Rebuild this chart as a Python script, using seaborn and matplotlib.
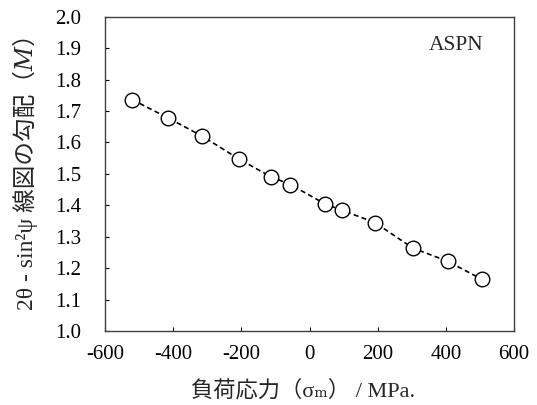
import matplotlib
matplotlib.use("Agg")
import matplotlib.pyplot as plt
import seaborn as sns
import pandas as pd

stress = [-520, -415, -315, -208, -114, -56, 46, 96, 192, 303, 405, 505]
slope = [1.736, 1.678, 1.620, 1.548, 1.491, 1.466, 1.404, 1.384, 1.345, 1.264, 1.222, 1.165]
xticks = [-600, -400, -200, 0, 200, 400, 600]
yticks = [1.0, 1.1, 1.2, 1.3, 1.4, 1.5, 1.6, 1.7, 1.8, 1.9, 2.0]

sns.set_theme(style="ticks")
plt.rcParams['font.family'] = ['Liberation Serif', 'Noto Sans CJK JP', 'DejaVu Serif', 'DejaVu Sans']

df = pd.DataFrame({"x": stress, "y": slope})

fig = plt.figure(figsize=(5.37, 4.05), dpi=100)
ax = fig.add_axes([105/537, 1-331/405, (514-105)/537, (331-16.7)/405])

sns.lineplot(data=df, x="x", y="y", ax=ax, color="black", linestyle=(0, (3, 2)),
             linewidth=1.2, marker="o", markersize=10.5, markerfacecolor="white",
             markeredgecolor="black", markeredgewidth=1.0)

ax.set_xlim(-600, 600)
ax.set_ylim(1.0, 2.0)
ax.set_xticks(xticks)
ax.set_xticklabels([str(v) for v in xticks])
ax.set_yticks(yticks)
ax.set_yticklabels([f"{v:.1f}" for v in yticks])
ax.tick_params(axis="both", direction="in", length=3, width=0.8, labelsize=15, colors="black")
ax.tick_params(axis="y", pad=17)
ax.tick_params(axis="x", pad=10)
for s in ax.spines.values():
    s.set_color("#404040")
    s.set_linewidth(1.0)

ax.set_xlabel("負荷応力（σₘ） / MPa.", fontsize=16)
ax.xaxis.set_label_coords(0.485, -0.155)
ax.set_ylabel("2θ - sin²ψ 線図の勾配（𝑀）", fontsize=17)
ax.yaxis.set_label_coords(-0.165, 0.525)
ax.text(0.924, 0.908, "ASPN", transform=ax.transAxes, ha="right", va="center", fontsize=15.5)

fig.savefig("out.png", dpi=100)
